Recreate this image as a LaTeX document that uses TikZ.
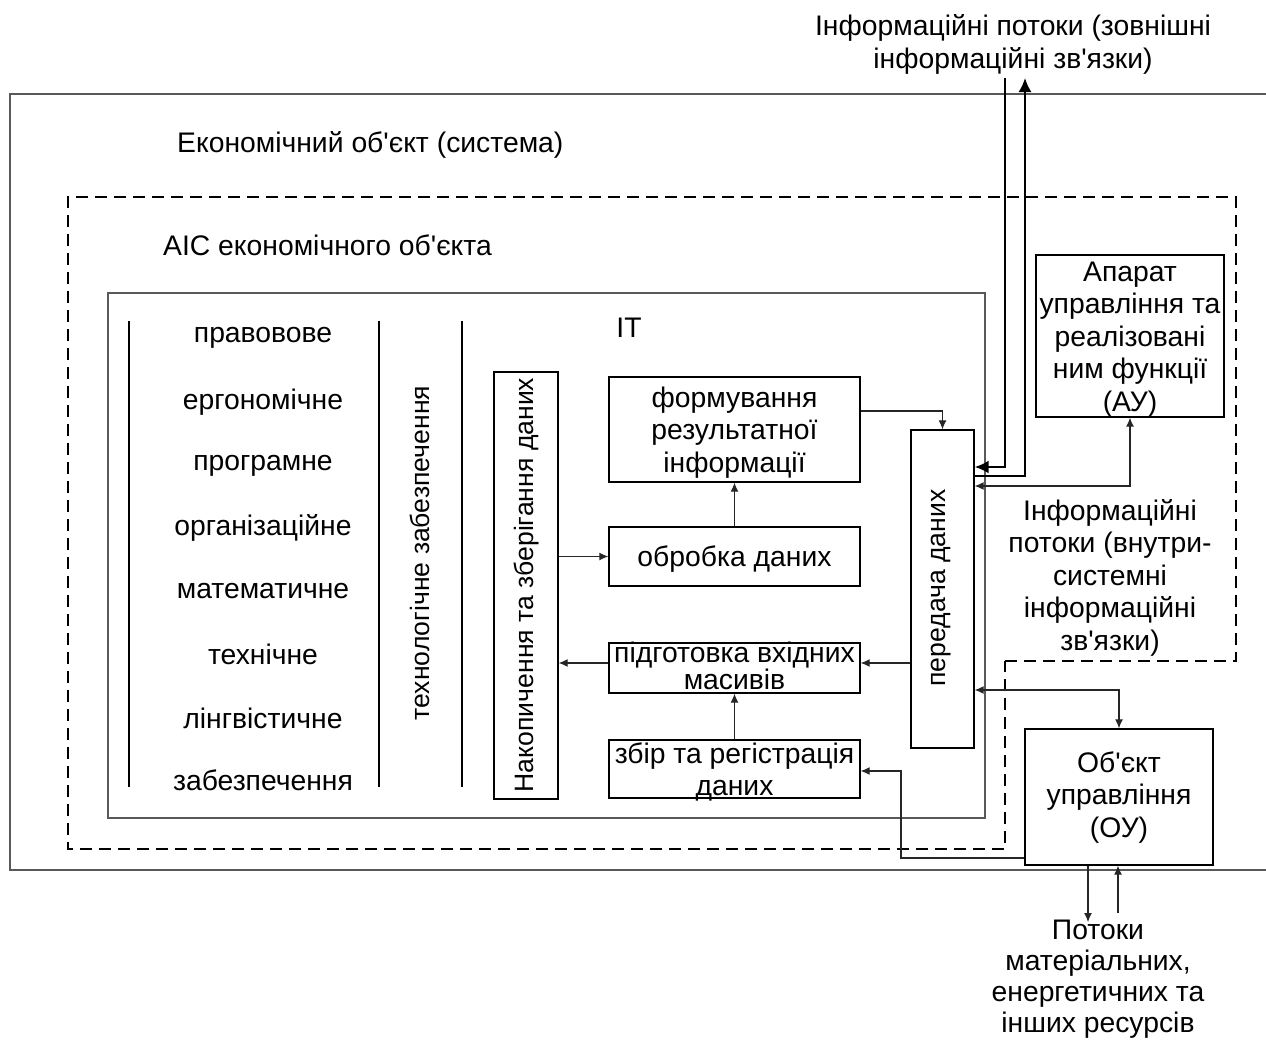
\documentclass[tikz,border=0pt]{standalone}
\usepackage{fontspec}
\setmainfont{Liberation Sans}[Ligatures=TeXOff]
\usetikzlibrary{arrows.meta}
\begin{document}
\begin{tikzpicture}[x=1pt,y=-1pt,
  every node/.style={font=\fontsize{28.3}{32.5}\selectfont, inner sep=0pt},
  vtxt/.style={rotate=90, font=\fontsize{26.6}{32}\selectfont},
  box/.style={draw=black, line width=1.4pt},
  txt/.style={align=center},
  frameline/.style={draw=black!65, line width=1.2pt},
  sysborder/.style={draw=black, line width=2.6pt, dash pattern=on 12pt off 7pt},
  conn/.style={draw=black!85, line width=1.1pt, -{Latex[length=9pt,width=8pt]}},
  conn2/.style={draw=black!85, line width=1.1pt, {Latex[length=9pt,width=8pt]}-{Latex[length=9pt,width=8pt]}},
  ext/.style={draw=black, line width=2pt, -{Latex[length=14pt,width=13pt]}}
]
\useasboundingbox (0,0) rectangle (1266,1041);

% economic object (outer system)
\draw[frameline] (1266,94) -- (10,94) -- (10,870) -- (1266,870);
\node[anchor=west] (econ) at (177,145) {Економічний об'єкт (система)};

% automated information system (dashed border)
\draw[sysborder] (1005,661) -- (1236,661) -- (1236,197) -- (68,197) -- (68,849) -- (1005,849) -- cycle;
\node[anchor=west] (ais) at (163,245) {АІС економічного об'єкта};

% support subsystems and IT frame
\draw[frameline] (108,293) rectangle (985,818);
\draw[line width=1.2pt] (129,321) -- (129,787);
\draw[line width=1.2pt] (379,321) -- (379,787);
\draw[line width=1.2pt] (462,321) -- (462,787);
\foreach \t/\yy [count=\i] in {правовове/338, ергономічне/402, програмне/466, організаційне/528,
  математичне/591, технічне/654, лінгвістичне/718, забезпечення/780}
  \node (sup\i) at (263,\yy) {\t};
\node[vtxt] (tech) at (420,553) {технологічне забезпечення};
\node (it) at (629,328) {IT};

% IT process blocks
\node[box, minimum width=64, minimum height=427] (nak) at (526,585.5) {};
\node[vtxt] (naktxt) at (526,585) {Накопичення та зберігання даних};
\node[box, minimum width=251, minimum height=105] (form) at (734.5,429.5) {};
\node[txt] (formtxt) at (734.5,432.5) {формування\\результатної\\інформації};
\node[box, minimum width=251, minimum height=59] (obr) at (734.5,556.5) {};
\node (obrtxt) at (734.5,559) {обробка даних};
\node[box, minimum width=251, minimum height=50] (pid) at (734.5,668) {};
\node[txt, font=\fontsize{28.3}{21.5}\selectfont] (pidtxt) at (734.5,666) {підготовка вхідних\\масивів};
\node[box, minimum width=251, minimum height=58] (zbir) at (734.5,769) {};
\node[txt] (zbirtxt) at (734.5,772) {збір та регістрація\\даних};
\node[box, minimum width=63, minimum height=318] (per) at (942.5,589) {};
\node[vtxt] (pertxt) at (941,588) {передача даних};

% management apparatus and managed object
\node[box, minimum width=188, minimum height=162] (au) at (1130,336) {};
\node[txt] (autxt) at (1130,339.5) {Апарат\\управління та\\реалізовані\\ним функції\\(АУ)};
\node[box, minimum width=188, minimum height=136] (ou) at (1119,797) {};
\node[txt] (outxt) at (1119,797.5) {Об'єкт\\управління\\(ОУ)};

% flow labels
\node[txt] (extlbl) at (1013,44.5) {Інформаційні потоки (зовнішні\\інформаційні зв'язки)};
\node[txt] (intlbl) at (1110,577.5) {Інформаційні\\потоки (внутри-\\системні\\інформаційні\\зв'язки)};
\node[txt, font=\fontsize{28.3}{31}\selectfont] (reslbl) at (1098,979.5) {Потоки\\матеріальних,\\енергетичних та\\інших ресурсів};

% internal data flows
\draw[conn] (nak.east |- obr.west) -- (obr.west);
\draw[conn] (obr.north) -- (form.south);
\draw[conn] (form.east |- 0,411) -| (per.north);
\draw[conn] (per.west |- 0,663) -- (pid.east |- 0,663);
\draw[conn] (pid.west |- 0,663) -- (nak.east |- 0,663);
\draw[conn] (zbir.north) -- (pid.south);
\draw[conn] (ou.west |- 0,858) -- (901,858) -- (901,771) -- (zbir.east |- 0,771);
\draw[conn2] (per.east |- 0,690) -| (ou.north);
\draw[conn2] (per.east |- 0,486) -| (au.south);

% external information flows
\coordinate (extin) at (1005,78);
\coordinate (extout) at (1025,78);
\draw[ext] (extin) -- (1005,467) -- (per.east |- 0,467);
\draw[ext] (per.east |- 0,476) -- (1025,476) -- (extout);

% material and resource flows
\coordinate (resout) at (1088,922);
\coordinate (resin) at (1118,913);
\draw[conn] (ou.south -| resout) -- (resout);
\draw[conn] (resin) -- (ou.south -| resin);
\end{tikzpicture}
\end{document}
